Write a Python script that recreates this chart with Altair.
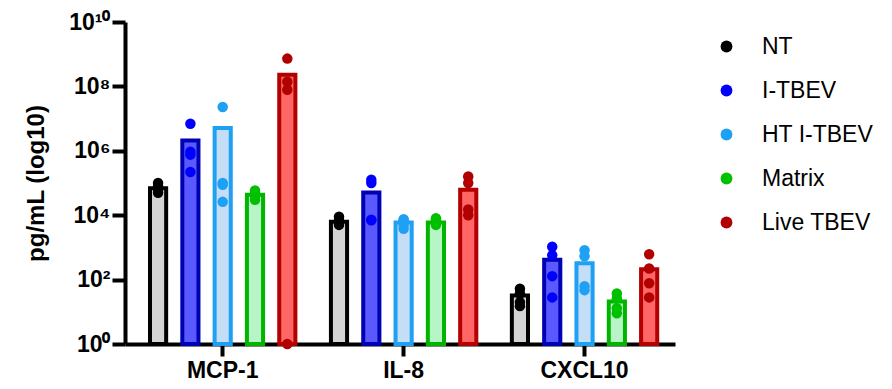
import altair as alt
import pandas as pd

groups = ["MCP-1", "IL-8", "CXCL10"]
series = ["NT", "I-TBEV", "HT I-TBEV", "Matrix", "Live TBEV"]

# bar heights (group means)
bar_mcp1 = [6.9e4, 2.1e6, 5.1e6, 4.3e4, 2.3e8]
bar_il8 = [6.3e3, 5.1e4, 5.9e3, 5.9e3, 6.2e4]
bar_cxcl10 = [32, 410, 324, 21, 210]

# individual replicate points
pts_mcp1 = [
    [1.0e5, 8.0e4, 6.5e4, 5.0e4],
    [6.9e6, 9.4e5, 7.6e5, 2.2e5],
    [2.3e7, 1.0e5, 8.8e4, 2.6e4],
    [5.9e4, 4.7e4, 4.0e4, 3.0e4],
    [7.3e8, 1.4e8, 7.9e7, 1.0],
]
pts_il8 = [
    [9.0e3, 7.0e3, 6.0e3, 5.0e3],
    [1.26e5, 1.0e5, 7.2e3, 7.0e3],
    [7.5e3, 7.0e3, 5.0e3, 3.8e3],
    [8.0e3, 7.0e3, 6.0e3, 5.0e3],
    [1.6e5, 1.0e5, 1.5e4, 1.0e4],
]
pts_cxcl10 = [
    [52, 37, 20, 15],
    [1050, 570, 128, 28],
    [820, 530, 62, 47],
    [37, 26, 13, 9],
    [610, 220, 77, 28],
]

point_colors = ["#000000", "#0000ff", "#1ea0f5", "#00c000", "#b00000"]
bar_fills = ["#d4d4d4", "#5959ff", "#c4def6", "#b8f5c6", "#ff6666"]
bar_strokes = ["#000000", "#0000b4", "#1ea0f5", "#00b400", "#b40000"]

FONT = "Liberation Sans"

bar_rows = []
for g, vals in zip(groups, [bar_mcp1, bar_il8, bar_cxcl10]):
    for s, v in zip(series, vals):
        bar_rows.append({"group": g, "series": s, "value": v})
bars_df = pd.DataFrame(bar_rows)

pt_rows = []
for g, table in zip(groups, [pts_mcp1, pts_il8, pts_cxcl10]):
    for s, vals in zip(series, table):
        for i, v in enumerate(vals):
            pt_rows.append({"group": g, "series": s, "rep": i, "value": v})
pts_df = pd.DataFrame(pt_rows)

sup = "['⁰','¹','²','³','⁴','⁵','⁶','⁷','⁸','⁹','¹⁰']"

x_enc = alt.X(
    "group:N", sort=groups,
    scale=alt.Scale(paddingInner=0, paddingOuter=0.02, align=1),
    axis=alt.Axis(title=None, labelAngle=0, labelFontSize=23, labelFont=FONT,
                  labelFontWeight="bold", labelColor="black", tickSize=12,
                  tickWidth=4, tickColor="black", domainWidth=4,
                  domainColor="black", labelPadding=3),
)
xoff_enc = alt.XOffset("series:N", sort=series,
                       scale=alt.Scale(paddingInner=0.5, paddingOuter=0.55))
y_scale = alt.Scale(type="log", domain=[1, 1e10], nice=False)
y_axis = alt.Axis(
    title="pg/mL (log10)", titleFontSize=24, titleFont=FONT,
    titleFontWeight="bold", titleColor="black", titlePadding=20,
    values=[1, 1e2, 1e4, 1e6, 1e8, 1e10],
    labelExpr="'10' + " + sup + "[round(log(datum.value)/LN10)]",
    labelFontSize=23, labelFont=FONT, labelFontWeight="bold",
    labelColor="black", tickSize=13, tickWidth=4, tickColor="black",
    domainWidth=4, domainColor="black", grid=False, labelPadding=2,
)

bars = alt.Chart(bars_df).mark_bar(strokeWidth=4).encode(
    x=x_enc,
    xOffset=xoff_enc,
    y=alt.Y("value:Q", scale=y_scale, axis=y_axis),
    y2=alt.datum(1),
    fill=alt.Fill("series:N", sort=series,
                  scale=alt.Scale(range=bar_fills), legend=None),
    stroke=alt.Stroke("series:N", sort=series,
                      scale=alt.Scale(range=bar_strokes), legend=None),
)

points = alt.Chart(pts_df).mark_circle(size=110, opacity=1).encode(
    x=x_enc,
    xOffset=xoff_enc,
    y=alt.Y("value:Q", scale=y_scale, axis=y_axis),
    color=alt.Color(
        "series:N", sort=series,
        scale=alt.Scale(domain=series, range=point_colors),
        legend=alt.Legend(title=None, orient="none", legendX=590, legendY=13,
                          labelFontSize=23, labelFont=FONT, labelColor="black",
                          symbolType="circle", symbolSize=140, rowPadding=20,
                          labelOffset=24, symbolStrokeWidth=0, padding=0,
                          symbolOpacity=1),
    ),
)

chart = alt.layer(bars, points).properties(
    width=550, height=322,
    padding={"left": 117, "top": 14, "right": 209, "bottom": 37},
    autosize=alt.AutoSizeParams(type="none"),
).configure_view(stroke=None)

chart.save("out.html", embed_options={"renderer": "svg", "actions": False})
